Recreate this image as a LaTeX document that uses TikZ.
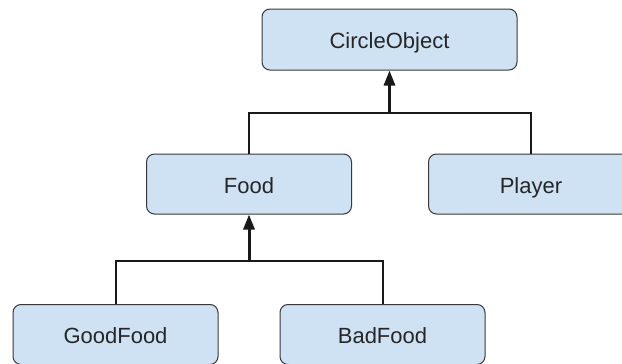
\documentclass[tikz,border=0pt]{standalone}
\usepackage{fontspec}
\setmainfont{Liberation Sans}
\usepackage{xcolor}
\usepackage{tikz}
\usetikzlibrary{positioning,arrows.meta}
\definecolor{c_box}{rgb}{0.81, 0.886, 0.953}
\definecolor{c_border}{rgb}{0.22, 0.22, 0.22}
\definecolor{c_text}{rgb}{0.15, 0.15, 0.15}
\tikzset{c-box/.style={rectangle, rounded corners=8pt, minimum width=205pt, minimum height=60pt, text centered, text height=20pt, text depth=2pt, draw=c_border, line width=1pt, fill=c_box, text=c_text, font=\fontsize{22}{26}\selectfont},
link/.style={line width=2pt, black!90},
arrow/.style={line width=3pt, black!90, -{Triangle[width=11pt,length=15pt]}}}

\begin{document}
\begin{tikzpicture}[node distance = 144.5pt]
\useasboundingbox (0,0) rectangle (622pt,-364pt);
\node (n0) [c-box, minimum width=255pt, minimum height=61pt] at (389.5pt,-39.5pt) {CircleObject};
\node (n1) [c-box, below of=n0, xshift=-140.5pt] {Food};
\node (n2) [c-box, below of=n0, xshift=141.5pt] {Player};
\node (n3) [c-box, below of=n1, xshift=-133.5pt, yshift=-6pt] {GoodFood};
\node (n4) [c-box, below of=n1, xshift=133.5pt, yshift=-6pt] {BadFood};
\coordinate (j0) at ([yshift=-42pt]n0.south);
\coordinate (j1) at ([yshift=-46pt]n1.south);
\draw [link] (n1.north) |- (j0) -| (n2.north);
\draw [arrow] (j0) -- (n0.south);
\draw [link] (n3.north) |- (j1) -| (n4.north);
\draw [arrow] (j1) -- (n1.south);
\end{tikzpicture}
\end{document}
